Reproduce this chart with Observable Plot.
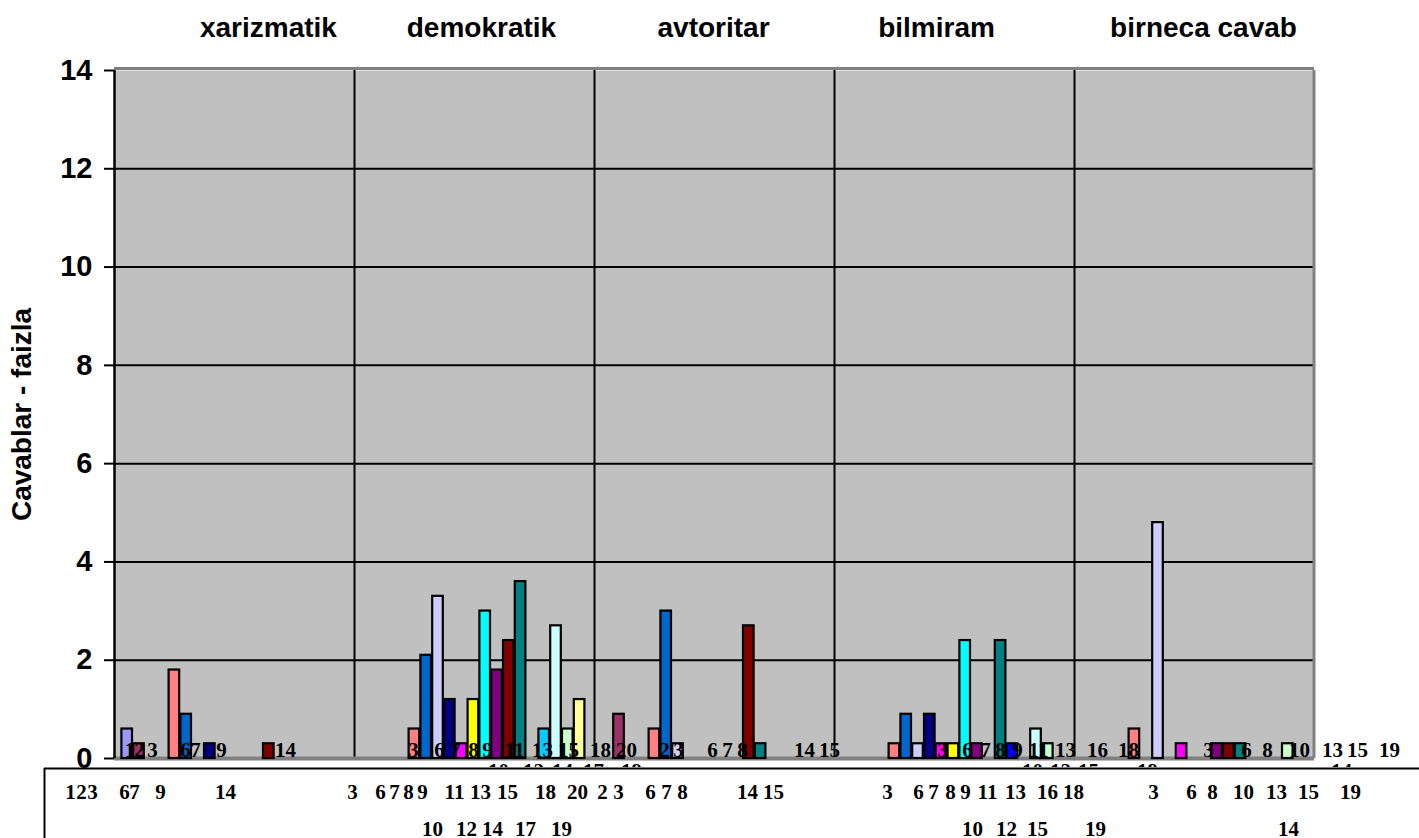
<!DOCTYPE html>
<html>
<head>
<meta charset="utf-8">
<script src="https://cdn.jsdelivr.net/npm/d3@7"></script>
<script src="https://cdn.jsdelivr.net/npm/@observablehq/plot@0.6"></script>
<style>
  html, body { margin: 0; padding: 0; background: #ffffff; overflow: hidden; }
  #chart svg { display: block; }
</style>
</head>
<body>
<div id="chart"></div>
<script>
// ---------------- DATA ----------------
const categories = ["xarizmatik", "demokratik", "avtoritar", "bilmiram", "birneca cavab"];
const seriesNames = ["1","2","3","4","5","6","7","8","9","10","11","12","13","14","15","16","17","18","19","20"];

// values (percent) per series 1..20 within each category
const xarizmatik   = [0, 0.6, 0.3, 0, 0, 1.8, 0.9, 0,   0.3, 0,   0,   0,   0,   0.3, 0,   0,   0,   0,   0,   0  ];
const demokratik   = [0, 0,   0,   0, 0, 0.6, 2.1, 3.3, 1.2, 0.3, 1.2, 3.0, 1.8, 2.4, 3.6, 0,   0.6, 2.7, 0.6, 1.2];
const avtoritar    = [0, 0,   0.9, 0, 0, 0.6, 3.0, 0.3, 0,   0,   0,   0,   0,   2.7, 0.3, 0,   0,   0,   0,   0  ];
const bilmiram     = [0, 0,   0,   0, 0, 0.3, 0.9, 0.3, 0.9, 0.3, 0.3, 2.4, 0.3, 0,   2.4, 0.3, 0,   0.6, 0.3, 0  ];
const birnecaCavab = [0, 0,   0,   0, 0, 0.6, 0,   4.8, 0,   0.3, 0,   0,   0.3, 0.3, 0.3, 0,   0,   0,   0.3, 0  ];

const yTicks = [0, 2, 4, 6, 8, 10, 12, 14];
const yTitle = "Cavablar - faizla";

// series-number labels as printed in the picture (text, position in slot units)
const labelRowA = [["1",1.29],["2",2.08],["3",3.17],["6",5.92],["7",6.75],["9",8.92],["14",14.25],
  ["3",24.92],["6",27.08],["7",28.42],["8",29.92],["9",31.08],["11",33.33],["13",35.67],["15",37.83],["18",40.5],["20",42.67],
  ["2",45.83],["3",47.0],["6",49.83],["7",51.08],["8",52.33],["14",57.5],["15",59.58],
  ["3",69.0],["6",71.08],["7",72.58],["8",73.83],["9",75.25],["11",77.0],["13",79.25],["16",81.92],["18",84.5],
  ["3",91.17],["6",94.33],["8",96.08],["10",98.75],["13",101.5],["15",103.58],["19",106.25]];
const labelRowB = [["10",32.0],["12",34.92],["14",37.33],["17",39.92],["19",43.08],
  ["10",76.5],["12",78.83],["15",81.17],["19",86.08],["14",102.25]];
const labelRowC = [["1",-3.67],["2",-2.75],["3",-1.83],["6",0.83],["7",1.67],["9",3.83],["14",9.25],
  ["3",19.83],["6",22.17],["7",23.33],["8",24.5],["9",25.67],["11",28.33],["13",30.5],["15",32.75],["18",35.92],["20",38.58],
  ["2",40.67],["3",42.0],["6",44.67],["7",46.0],["8",47.33],["14",52.75],["15",54.92],
  ["3",64.42],["6",67.0],["7",68.25],["8",69.67],["9",70.92],["11",72.75],["13",75.08],["16",77.75],["18",79.92],
  ["3",86.58],["6",89.75],["8",91.5],["10",94.08],["13",96.83],["15",99.5],["19",103.0]];
const labelRowD = [["10",26.5],["12",29.33],["14",31.5],["17",34.25],["19",37.25],
  ["10",71.5],["12",74.33],["15",76.92],["19",81.75],["14",97.83]];

// ---------------- STYLE / LAYOUT ----------------
const seriesColors = ["#FFFFCC","#9999FF","#993366","#CCFFFF","#660066","#FF8080","#0066CC","#CCCCFF","#000080","#FF00FF",
                      "#FFFF00","#00FFFF","#800080","#800000","#008080","#0000FF","#00CCFF","#CCFFFF","#CCFFCC","#FFFF99"];
const SLOTS = 20;                 // slot units per category
const barW = 11.8 / 12;           // bar width in slot units
const barShift = -5 / 12;         // group offset in slot units
const titleNudge = [2.83, 0.58, -0.08, -1.5, 0.75];
const pxY = px => -px * 14 / 688; // pixel distance below the baseline -> y units

const valuesByCategory = [xarizmatik, demokratik, avtoritar, bilmiram, birnecaCavab];
const bars = categories.flatMap((c, i) => valuesByCategory[i].map((v, s) => ({category: c, i, s, series: seriesNames[s], value: v})))
  .filter(d => d.value > 0);

const serif = {fontFamily: "Liberation Serif, Times New Roman, serif", fontWeight: "bold", fontSize: 21, fill: "black", textAnchor: "middle", lineAnchor: "bottom"};
const sans = "Liberation Sans, Arial, sans-serif";

const chart = Plot.plot({
  width: 1419,
  height: 838,
  marginLeft: 114,
  marginRight: 105,
  marginTop: 70,
  marginBottom: 80,
  style: {background: "white", color: "black", overflow: "visible"},
  x: {domain: [0, SLOTS * categories.length], axis: null},
  y: {domain: [0, 14], axis: null},
  color: {type: "ordinal", domain: seriesNames, range: seriesColors},
  marks: [
    Plot.frame({fill: "#C0C0C0", stroke: null}),
    Plot.ruleY(yTicks.filter(t => t > 0 && t < 14), {stroke: "black", strokeWidth: 2}),
    Plot.ruleX(d3.range(1, categories.length).map(i => i * SLOTS), {stroke: "black", strokeWidth: 2}),
    Plot.ruleY([14], {stroke: "#808080", strokeWidth: 3, dy: -2}),
    Plot.ruleX([SLOTS * categories.length], {stroke: "#808080", strokeWidth: 3, dx: -0.5}),
    Plot.ruleY([0], {stroke: "#808080", strokeWidth: 4}),
    Plot.rect(bars, {
      x1: d => d.i * SLOTS + barShift + d.s * barW,
      x2: d => d.i * SLOTS + barShift + (d.s + 1) * barW,
      y1: d => 0,
      y2: "value",
      fill: "series",
      stroke: "black",
      strokeWidth: 2.2,
      insetLeft: 0.6,
      insetRight: 0.6
    }),
    Plot.ruleX([0], {stroke: "black", strokeWidth: 2.5}),
    Plot.text(labelRowA, {...serif, x: d => d[1], y: d => 0, text: d => d[0], dy: -2}),
    Plot.text(labelRowB, {...serif, x: d => d[1], y: d => 0, text: d => d[0], dy: 19}),
    Plot.rect([0], {x1: d => -6, x2: d => 109, y1: d => pxY(9), y2: d => pxY(120), fill: "white"}),
    Plot.ruleY([0], {x1: d => -70 / 12, x2: d => 1305 / 12, dy: 10, stroke: "black", strokeWidth: 2}),
    Plot.ruleX([-70 / 12], {y1: d => pxY(10), y2: d => pxY(120), stroke: "black", strokeWidth: 2}),
    Plot.text(labelRowC, {...serif, x: d => d[1], y: d => 0, text: d => d[0], dy: 40}),
    Plot.text(labelRowD, {...serif, x: d => d[1], y: d => 0, text: d => d[0], dy: 77}),
    Plot.axisY({ticks: yTicks, tickSize: 10, tickPadding: 12, strokeWidth: 2, label: null,
      fontSize: 29, fontFamily: sans, fontWeight: "bold", fill: "black"}),
    Plot.text(categories, {
      x: (d, i) => i * SLOTS + SLOTS / 2 + titleNudge[i],
      frameAnchor: "top", dy: -34, text: d => d,
      fontFamily: sans, fontWeight: "bold", fontSize: 28, fill: "black",
      textAnchor: "middle", lineAnchor: "bottom"
    }),
    Plot.text([yTitle], {
      frameAnchor: "left", dx: -92, rotate: -90, text: d => d,
      fontFamily: sans, fontWeight: "bold", fontSize: 28, fill: "black",
      textAnchor: "middle", lineAnchor: "middle"
    })
  ]
});
document.getElementById("chart").appendChild(chart);
</script>
</body>
</html>
